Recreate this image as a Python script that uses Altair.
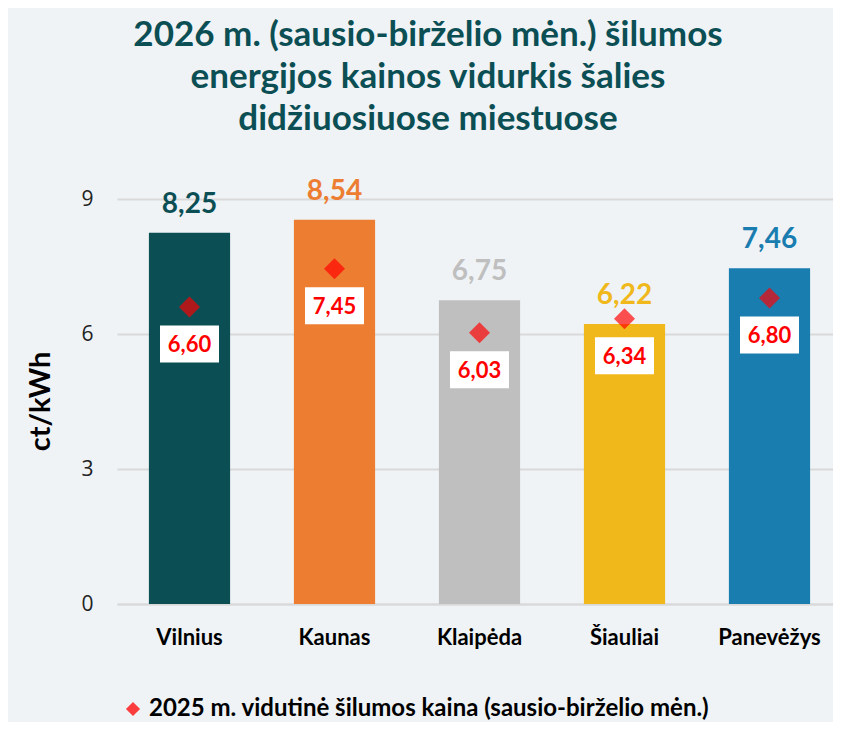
import altair as alt
import pandas as pd

cities = ["Vilnius", "Kaunas", "Klaipėda", "Šiauliai", "Panevėžys"]
price_2026 = [8.25, 8.54, 6.75, 6.22, 7.46]
price_2025 = [6.60, 7.45, 6.03, 6.34, 6.80]
bar_colors = ["#0b4f55", "#ed7d31", "#bfbfbf", "#f0b81b", "#1a7db0"]
series_2025 = "2025 m. vidutinė šilumos kaina (sausio-birželio mėn.)"
title_lines = [
    "2026 m. (sausio-birželio mėn.) šilumos",
    "energijos kainos vidurkis šalies",
    "didžiuosiuose miestuose",
]
y_ticks = [0, 3, 6, 9]

df = pd.DataFrame({
    "city": cities,
    "p26": price_2026,
    "p25": price_2025,
    "col": bar_colors,
    "series": [series_2025] * len(cities),
})
df["l26"] = [f"{v:.2f}".replace(".", ",") for v in price_2026]
df["l25"] = [f"{v:.2f}".replace(".", ",") for v in price_2025]

FONT = "Lato"

x = alt.X(
    "city:N",
    sort=cities,
    title=None,
    scale=alt.Scale(paddingInner=0.44, paddingOuter=0.22, range=[0, 725]),
    axis=alt.Axis(
        labelFont=FONT, labelFontSize=22, labelFontWeight="bold", labelColor="#000000",
        labelAngle=0, labelPadding=23, ticks=False, domainColor="#d9d9d9", domainWidth=2,
        grid=False,
    ),
)
y = alt.Y(
    "p26:Q",
    scale=alt.Scale(domain=[0, 9]),
    axis=alt.Axis(
        values=y_ticks, title="ct/kWh", titleFont=FONT, titleFontSize=29, titleFontWeight="bold",
        titleColor="#000000", titleAngle=270, titleX=-77, titleY=202, titleAlign="center",
        titleBaseline="middle", labelFont="Open Sans", labelFontSize=21, labelColor="#222222",
        labelPadding=24, ticks=False, domain=False, gridColor="#d9d9d9", gridWidth=2,
    ),
)

base = alt.Chart(df)

bars = base.mark_bar().encode(x=x, y=y, color=alt.Color("col:N", scale=None))

bar_labels = base.mark_text(
    font=FONT, fontSize=28, fontWeight="bold", baseline="alphabetic", dy=-20
).encode(x=alt.X("city:N", sort=cities), y="p26:Q", text="l26:N", color=alt.Color("col:N", scale=None))

diamonds = base.mark_point(
    shape="diamond", filled=True, size=440, opacity=0.68, strokeWidth=0
).encode(
    x=alt.X("city:N", sort=cities),
    y=alt.Y("p25:Q"),
    fill=alt.Fill(
        "series:N",
        scale=alt.Scale(range=["#ff0000"]),
        legend=alt.Legend(
            title=None, orient="none", legendX=4, legendY=498, symbolType="diamond",
            symbolSize=200, symbolOpacity=0.75, symbolStrokeWidth=0, labelFont=FONT,
            labelFontSize=24, labelFontWeight="bold", labelColor="#000000", labelLimit=0,
            padding=0, symbolOffset=0,
        ),
    ),
)

boxes = base.mark_point(
    shape="M-1,-0.627L1,-0.627L1,0.627L-1,0.627Z", filled=True, size=3481,
    color="#ffffff", opacity=1, strokeWidth=0, yOffset=37,
).encode(x=alt.X("city:N", sort=cities), y=alt.Y("p25:Q"))

box_labels = base.mark_text(
    font=FONT, fontSize=22, fontWeight="bold", color="#ff0000", baseline="middle", dy=38
).encode(x=alt.X("city:N", sort=cities), y=alt.Y("p25:Q"), text="l25:N")

chart = alt.layer(bars, bar_labels, diamonds, boxes, box_labels).properties(
    width=716,
    height=405,
    autosize=alt.AutoSizeParams(type="none"),
    padding={"left": 109, "top": 191, "right": 0, "bottom": 118},
    background="#eff3f6",
    title=alt.TitleParams(
        text=title_lines, font=FONT, fontSize=35, fontWeight="bold", color="#0b4f55",
        anchor="middle", dx=-47, lineHeight=42, offset=41,
    ),
).configure_view(stroke=None)

chart.save("out.html", embed_options={"renderer": "svg", "actions": False})
